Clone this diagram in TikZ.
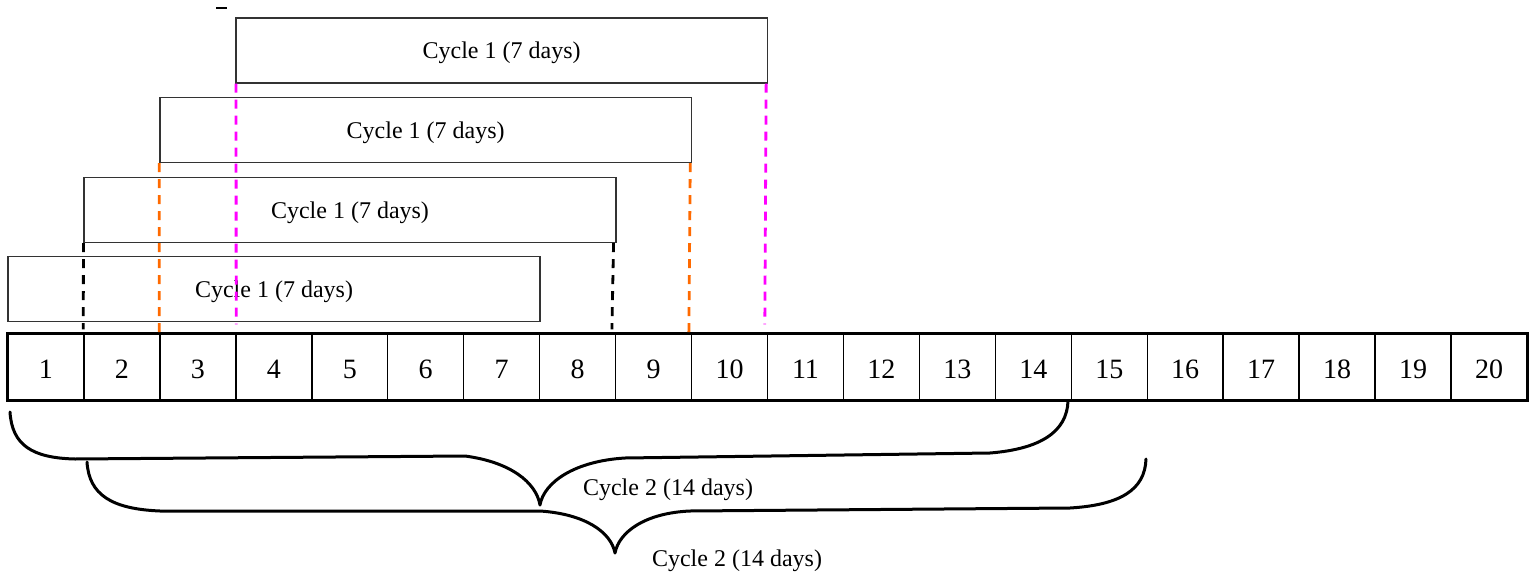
\documentclass[tikz,border=0pt]{standalone}
\usepackage{fontspec}
\setmainfont{Liberation Serif}
\definecolor{guidemag}{HTML}{FF00FF}
\definecolor{guideorg}{HTML}{FF6A00}
\begin{document}
\begin{tikzpicture}[x=0.5pt,y=-0.5pt,
  cell/.style={draw=black,line width=0.7pt,minimum width=37.95pt,minimum height=33pt,inner sep=0pt},
  celltext/.style={inner sep=0pt,font=\fontsize{14}{16}\selectfont},
  cyclebox/.style={draw=black!80,line width=0.75pt,minimum width=265.8pt,minimum height=32.3pt,inner sep=0pt},
  lbl/.style={inner sep=0pt,font=\fontsize{12}{14}\selectfont},
  guide/.style={line width=1.4pt,dash pattern=on 4.5pt off 3.5pt},
  brace/.style={line width=1.5pt,line cap=round,line join=round}]
\useasboundingbox (0,0) rectangle (1532,573);
% day cells
\foreach \i in {1,...,20}{
  \node[cell,label={[celltext,yshift=-1.2pt]center:\i}] (c\i) at ({8+75.95*(\i-0.5)},367) {};
}
\draw[line width=1.5pt] (c1.north west) rectangle (c20.south east);
% cycle 1 boxes
\node[cyclebox,label={[lbl,yshift=-1.2pt]center:Cycle 1 (7 days)}] (b1) at (274,289) {};
\node[cyclebox,label={[lbl,yshift=-1.2pt]center:Cycle 1 (7 days)}] (b2) at (350,210) {};
\node[cyclebox,label={[lbl,yshift=-1.2pt]center:Cycle 1 (7 days)}] (b3) at (425.7,130) {};
\node[cyclebox,label={[lbl,yshift=-1.2pt]center:Cycle 1 (7 days)}] (b4) at (501.6,50.5) {};
% dashed guides
\draw[guide,black] (b2.south west) -- ([yshift=2pt]c2.north west);
\draw[guide,black] ([xshift=-1.5pt]b2.south east) -- ([xshift=-1.5pt,yshift=2pt]c9.north west);
\draw[guide,guideorg] (b3.south west) -- (c3.north west);
\draw[guide,guideorg] ([xshift=-1pt]b3.south east) -- ([xshift=-1pt]c10.north west);
\draw[guide,guidemag] ([xshift=0.5pt]b4.south west) -- ([xshift=0.5pt,yshift=4.5pt]c4.north west);
\draw[guide,guidemag] ([xshift=-1pt]b4.south east) -- ([xshift=-1pt,yshift=4.5pt]c11.north west);
% stray mark
\coordinate (m1) at (216,8);
\coordinate (m2) at (227,8);
\draw[line width=1pt] (m1) -- (m2);
% braces
\coordinate (t1) at (540,505);
\coordinate (t2) at (615,553);
\draw[brace] (10,412) .. controls (12,445) and (32,458) .. (75,459) -- (465,456)
  .. controls (510,462) and (536,482) .. (t1)
  .. controls (544,482) and (575,461) .. (625,458) -- (990,453)
  .. controls (1040,449) and (1067,432) .. (1068,401);
\draw[brace] (87,462) .. controls (89,495) and (112,509) .. (160,511) -- (540,511)
  .. controls (585,514) and (611,532) .. (t2)
  .. controls (619,532) and (645,513) .. (690,511) -- (1070,508)
  .. controls (1120,505) and (1145,490) .. (1146,459);
\node[lbl] (l1) at (668,490) {Cycle 2 (14 days)};
\node[lbl] (l2) at (737,561) {Cycle 2 (14 days)};
\end{tikzpicture}
\end{document}
